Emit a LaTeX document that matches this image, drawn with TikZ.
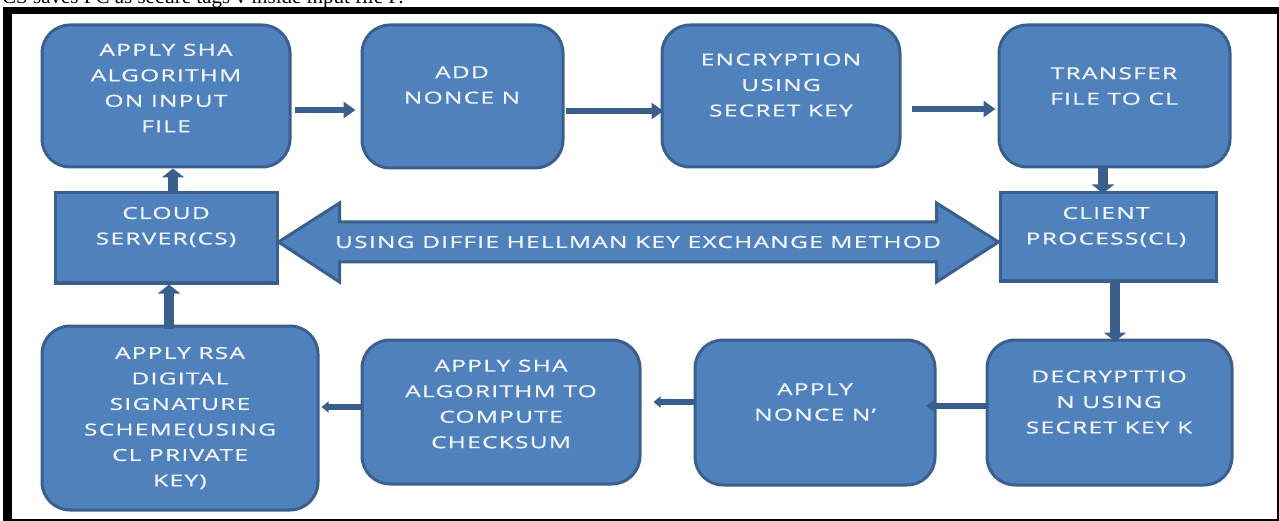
\documentclass[tikz,border=0pt]{standalone}
\usepackage{fontspec}
\setmainfont{Liberation Serif}
\newfontfamily\boxfont[FakeStretch=1.48,LetterSpace=8,FakeBold=0.9]{Open Sans}
\usetikzlibrary{arrows.meta,calc}

\definecolor{boxfill}{HTML}{4F81BD}
\definecolor{boxline}{HTML}{3A5F8C}
\definecolor{boxtext}{HTML}{F2F5FB}

\tikzset{
  rbox/.style={draw=boxline, fill=boxfill, line width=3pt, rounded corners=28pt, inner sep=0pt},
  sbox/.style={draw=boxline, fill=boxfill, line width=3pt, inner sep=0pt},
  btext/.style={text=boxtext, align=center, inner sep=0pt,
    font=\boxfont\fontsize{16.5}{25.5}\selectfont},
  harrow/.style={draw=boxline, line width=6.5pt, -{Triangle[width=16pt,length=12pt]}},
  varrow/.style={draw=boxline, line width=10pt, -{Triangle[width=22pt,length=9pt]}},
  larrow/.style={draw=boxline, line width=6pt, -{Triangle[width=11pt,length=7pt]}},
  dharrow/.style={draw=boxline, fill=boxfill, line width=3pt, line join=miter}
}

\begin{document}
\begin{tikzpicture}[x=1pt,y=-1pt]
\useasboundingbox (0,0) rectangle (1279,521);
\clip (0,0) rectangle (1279,521);

% caption line of the page above the figure
\node[anchor=base west, inner sep=0pt, font=\fontsize{21}{24}\selectfont] (note) at (2,4)
  {CS saves FC as secure tags v inside input file F.};

% figure frame: heavy top and left edges, thin right and bottom
\fill (3,7) rectangle (1279,14);
\fill (3,7) rectangle (12,521);
\fill (1277,7) rectangle (1279,521);
\fill (3,519) rectangle (1279,521);

% top row
\node[rbox, minimum width=248pt, minimum height=142pt] (sha) at (166,96) {};
\node[rbox, minimum width=201pt, minimum height=143pt] (nonce) at (462.5,96.5) {};
\node[rbox, minimum width=238pt, minimum height=142pt] (enc) at (781,96) {};
\node[rbox, minimum width=231pt, minimum height=142pt] (xfer) at (1114.5,96) {};

% middle row
\node[sbox, minimum width=222pt, minimum height=90pt] (cs) at (166,238) {};
\node[sbox, minimum width=216pt, minimum height=88pt] (cl) at (1108,237) {};

% bottom row
\node[rbox, minimum width=276pt, minimum height=184pt] (rsa) at (180,418) {};
\node[rbox, minimum width=278pt, minimum height=144pt] (chk) at (501,412) {};
\node[rbox, minimum width=240pt, minimum height=145pt] (nonce2) at (815,412.5) {};
\node[rbox, minimum width=245pt, minimum height=145pt] (dec) at (1109.5,412.5) {};

% labels
\node[btext] (shaT) at (166,88) {APPLY SHA\\ALGORITHM\\ON INPUT\\FILE};
\node[btext] (nonceT) at (462,85) {ADD\\NONCE N};
\node[btext] (encT) at (781,85) {ENCRYPTION\\USING\\SECRET KEY};
\node[btext] (xferT) at (1114,86) {TRANSFER\\FILE TO CL};
\node[btext] (csT) at (166,227) {CLOUD\\SERVER(CS)};
\node[btext] (clT) at (1106,227) {CLIENT\\PROCESS(CL)};
\node[btext] (rsaT) at (180,418) {APPLY RSA\\DIGITAL\\SIGNATURE\\SCHEME(USING\\CL PRIVATE\\KEY)};
\node[btext] (chkT) at (501,404) {APPLY SHA\\ALGORITHM TO\\COMPUTE\\CHECKSUM};
\node[btext] (nonce2T) at (815,402) {APPLY\\NONCE N’};
\node[btext] (decT) at (1109,402) {DECRYPTTIO\\N USING\\SECRET KEY K};

% top row flow
\draw[harrow] ([xshift=3pt]sha.east |- 0,110) -- ([xshift=-5pt]nonce.west |- 0,110);
\draw[harrow] ([xshift=1pt]nonce.east |- 0,111) -- ([xshift=3pt]enc.west |- 0,111);
\draw[harrow] ([xshift=10pt]enc.east |- 0,109) -- ([xshift=-2pt]xfer.west |- 0,109);

% vertical links
\draw[varrow] ([xshift=7pt]cs.north) -- ([xshift=7pt]sha.south);
\draw[varrow] ([xshift=-11.5pt]xfer.south) -- ([xshift=-5pt,yshift=-2pt]cl.north);
\draw[varrow] ([xshift=7pt]cl.south) -- ([xshift=5.5pt,yshift=-3pt]dec.north);
\draw[varrow] ([xshift=-11pt,yshift=-4pt]rsa.north) -- ([xshift=3pt]cs.south);

% bottom row flow
\draw[larrow] (dec.west |- 0,406) -- ([xshift=-10pt]nonce2.east |- 0,406);
\draw[larrow] (nonce2.west |- 0,402) -- ([xshift=12pt]chk.east |- 0,402);
\draw[larrow] (chk.west |- 0,407) -- ([xshift=2pt]rsa.east |- 0,407);

% key exchange double arrow
\coordinate (dhL) at (cs.east |- 0,242);
\coordinate (dhR) at (cl.west |- 0,242);
\draw[dharrow] (dhL) -- ++(61,-39) -- ++(0,19) -- ($(dhR)+(-62,-20)$) -- ++(0,-19)
  -- (dhR) -- ++(-62,40) -- ++(0,-20) -- ($(dhL)+(61,20)$) -- ++(0,20) -- cycle;
\node[btext] (dhT) at (638,242) {USING DIFFIE HELLMAN KEY EXCHANGE METHOD};
\end{tikzpicture}
\end{document}
